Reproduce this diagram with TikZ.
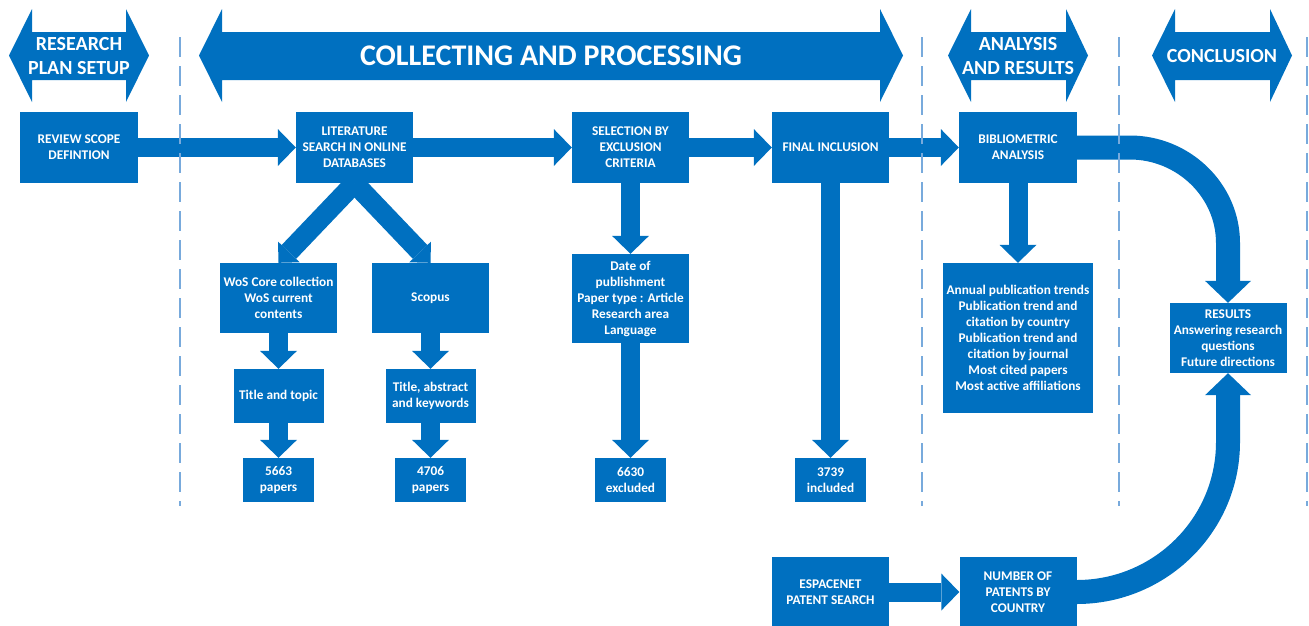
\documentclass[tikz,border=0pt]{standalone}
\usepackage{fontspec}
\setmainfont{Carlito}
\usetikzlibrary{arrows.meta}
\definecolor{cblue}{RGB}{0,112,192}
\definecolor{dashblue}{RGB}{120,170,220}
\pgfdeclarelayer{bg}
\pgfsetlayers{bg,main}
\newcommand\phasearrow[4]{%
  \fill[cblue] (#1,55.5) -- (#2,9) -- (#2,32) -- (#3,32) -- (#3,9) -- (#4,55.5)
    -- (#3,102) -- (#3,80) -- (#2,80) -- (#2,102) -- cycle;}
\begin{document}
\begin{tikzpicture}[x=1pt,y=-1pt,
  box/.style={fill=cblue, text=white, font=\bfseries\fontsize{13.3}{16}\selectfont, align=center, inner sep=0pt},
  barrow/.style={draw=cblue, line width=19pt, -{Triangle[length=18pt,width=37pt,line width=0pt 0 0]}},
  varrow/.style={draw=cblue, line width=20pt, -{Triangle[length=15pt,width=30pt,line width=0pt 0 0]}},
  carrow/.style={draw=cblue, line width=24pt, -{Triangle[length=22pt,width=46pt,line width=0pt 0 0]}},
  phasetext/.style={text=white, font=\bfseries\fontsize{20}{24}\selectfont, align=center, inner sep=0pt},
  septr/.style={draw=dashblue, line width=2pt, dash pattern=on 20pt off 9pt}
]
\useasboundingbox (0,0) rectangle (1309,625);

% phase separators
\draw[septr] (180,37) -- (180,506);
\draw[septr] (922,37) -- (922,506);
\draw[septr] (1119,37) -- (1119,506);
\draw[septr] (1307,37) -- (1307,506);

% phase header arrows
\phasearrow{9}{32}{126}{149}
\phasearrow{199}{222}{880}{903}
\phasearrow{948}{971}{1066}{1088}
\phasearrow{1152}{1175}{1270}{1292}
\node[phasetext] (h1) at (79,56) {RESEARCH\\PLAN SETUP};
\node[phasetext, font=\bfseries\fontsize{30}{32}\selectfont] (h2) at (551,56) {COLLECTING AND PROCESSING};
\node[phasetext] (h3) at (1018,56) {ANALYSIS\\AND RESULTS};
\node[phasetext] (h4) at (1222,56) {CONCLUSION};

% boxes
\node[box, minimum width=118pt, minimum height=71pt] (rsd) at (79,147.5) {REVIEW SCOPE\\DEFINTION};
\node[box, minimum width=117pt, minimum height=71pt] (lit) at (354.5,147.5) {LITERATURE\\SEARCH IN ONLINE\\DATABASES};
\node[box, minimum width=117pt, minimum height=71pt] (sel) at (630.5,147.5) {SELECTION BY\\EXCLUSION\\CRITERIA};
\node[box, minimum width=117pt, minimum height=71pt] (fin) at (830.5,147.5) {FINAL INCLUSION};
\node[box, minimum width=118pt, minimum height=71pt] (bib) at (1018,147.5) {BIBLIOMETRIC\\ANALYSIS};

\node[box, minimum width=117pt, minimum height=70pt] (wos) at (278.5,298) {WoS Core collection\\WoS current\\contents};
\node[box, minimum width=117pt, minimum height=70pt] (sco) at (430.5,298) {Scopus};
\node[box, minimum width=90pt, minimum height=54pt] (tt) at (278.5,396) {Title and topic};
\node[box, minimum width=90pt, minimum height=54pt] (tak) at (430.5,396) {Title, abstract\\and keywords};
\node[box, minimum width=71pt, minimum height=44pt] (p1) at (278.5,480) {5663\\papers};
\node[box, minimum width=71pt, minimum height=44pt] (p2) at (430.5,480) {4706\\papers};

\node[box, minimum width=117pt, minimum height=89pt] (date) at (630.5,298.5) {Date of\\publishment\\Paper type : Article\\Research area\\Language};
\node[box, minimum width=71pt, minimum height=44pt] (exc) at (630.5,480) {6630\\excluded};
\node[box, minimum width=71pt, minimum height=44pt] (inc) at (830.5,480) {3739\\included};

\node[box, minimum width=150pt, minimum height=150pt] (ann) at (1018,338) {Annual publication trends\\Publication trend and\\citation by country\\Publication trend and\\citation by journal\\Most cited papers\\Most active affiliations};
\node[box, minimum width=117pt, minimum height=70pt] (res) at (1228,338) {RESULTS\\Answering research\\questions\\Future directions};

\node[box, minimum width=117pt, minimum height=70pt] (esp) at (830.5,592) {ESPACENET\\PATENT SEARCH};
\node[box, minimum width=117pt, minimum height=70pt] (num) at (1018,592) {NUMBER OF\\PATENTS BY\\COUNTRY};

% connectors
\begin{pgfonlayer}{bg}
\draw[barrow] (rsd) -- (lit);
\draw[barrow] (lit) -- (sel);
\draw[barrow] (sel) -- (fin);
\draw[barrow] (fin) -- (bib);
\draw[varrow] (lit.south) -- (wos.north);
\draw[varrow] (lit.south) -- (sco.north);
\draw[barrow] (wos) -- (tt);
\draw[barrow] (tt) -- (p1);
\draw[barrow] (sco) -- (tak);
\draw[barrow] (tak) -- (p2);
\draw[barrow] (sel) -- (date);
\draw[barrow] (date) -- (exc);
\draw[barrow] (fin) -- (inc);
\draw[barrow] (bib) -- (ann);
\draw[barrow] (esp) -- (num);
\draw[carrow] (bib.east) -- (1130,147.5) .. controls (1183,147.5) and (1228,190) .. (1228,243) -- (res.north);
\draw[carrow] (num.east) .. controls (1160,592) and (1228,525) .. (1228,442) -- (res.south);
\end{pgfonlayer}
\end{tikzpicture}
\end{document}
